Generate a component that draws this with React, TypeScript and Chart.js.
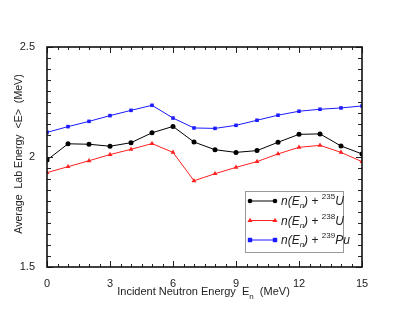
import React, { useEffect, useRef } from "react";
import { Chart, registerables } from "chart.js";

Chart.register(...registerables);

const energies = [0, 1, 2, 3, 4, 5, 6, 7, 8, 9, 10, 11, 12, 13, 14, 15];
const u235 = [1.986, 2.06, 2.058, 2.049, 2.065, 2.11, 2.139, 2.068, 2.033, 2.021, 2.029, 2.067, 2.103, 2.105, 2.05, 2.014];
const u238 = [1.929, 1.956, 1.983, 2.011, 2.035, 2.061, 2.021, 1.892, 1.924, 1.953, 1.979, 2.014, 2.044, 2.053, 2.021, 1.979];
const pu239 = [2.112, 2.138, 2.162, 2.188, 2.212, 2.235, 2.177, 2.132, 2.13, 2.144, 2.167, 2.19, 2.208, 2.217, 2.223, 2.232];
const massNumbers = ["235", "238", "239"];
const elements = ["U", "U", "Pu"];
const xTickLabels = ["0", "3", "6", "9", "12", "15"];
const yTickLabels = ["1.5", "2", "2.5"];
const xTitle = ["Incident Neutron Energy  E", "n", "  (MeV)"];
const yTitle = "Average  Lab Energy  <E>  (MeV)";

const FONT = "'Liberation Sans', Arial, sans-serif";

const framePlugin = {
  id: "frameTicks",
  afterDatasetsDraw(chart: any) {
    const { ctx, chartArea: a, scales } = chart;
    const xs = scales.x, ys = scales.y;
    ctx.save();
    ctx.strokeStyle = "#222";
    ctx.lineWidth = 1;
    for (let v = 0; v <= 15.001; v += 0.5) {
      const px = Math.round(xs.getPixelForValue(v)) + 0.5;
      const len = Math.abs(v % 3) < 1e-6 ? 6 : 3;
      ctx.beginPath();
      ctx.moveTo(px, a.bottom); ctx.lineTo(px, a.bottom - len);
      ctx.moveTo(px, a.top); ctx.lineTo(px, a.top + len);
      ctx.stroke();
    }
    for (let i = 0; i <= 20; i++) {
      const v = 1.5 + i * 0.05;
      const py = Math.round(ys.getPixelForValue(v)) + 0.5;
      const len = i % 10 === 0 ? 6 : 4;
      ctx.beginPath();
      ctx.moveTo(a.left, py); ctx.lineTo(a.left + len, py);
      ctx.moveTo(a.right, py); ctx.lineTo(a.right - len, py);
      ctx.stroke();
    }
    ctx.lineWidth = 1.6;
    ctx.strokeStyle = "#111";
    ctx.strokeRect(a.left, a.top, a.right - a.left, a.bottom - a.top);

    ctx.fillStyle = "#222";
    ctx.textBaseline = "alphabetic";
    const f1 = `11px ${FONT}`, f2 = `8px ${FONT}`;
    ctx.font = f1;
    const w0 = ctx.measureText(xTitle[0]).width;
    const w2 = ctx.measureText(xTitle[2]).width;
    ctx.font = f2;
    const w1 = ctx.measureText(xTitle[1]).width;
    const total = w0 + w1 + w2;
    let x = (a.left + a.right) / 2 - total / 2 - 1;
    const by = 295;
    ctx.font = f1; ctx.textAlign = "left";
    ctx.fillText(xTitle[0], x, by); x += w0;
    ctx.font = f2; ctx.fillText(xTitle[1], x, by + 4); x += w1;
    ctx.font = f1; ctx.fillText(xTitle[2], x, by);

    ctx.save();
    ctx.translate(22, 154);
    ctx.rotate(-Math.PI / 2);
    ctx.textAlign = "center";
    ctx.font = `10.6px ${FONT}`;
    ctx.fillText(yTitle, 0, 0);
    ctx.restore();

    const lx = 245, ly = 191, lw = 98, lh = 61;
    ctx.fillStyle = "#fff";
    ctx.fillRect(lx, ly, lw, lh);
    ctx.lineWidth = 1;
    ctx.strokeStyle = "#999";
    ctx.strokeRect(lx + 0.5, ly + 0.5, lw, lh);
    chart.data.datasets.forEach((ds: any, i: number) => {
      const y = 201 + i * 19.5;
      ctx.strokeStyle = ds.borderColor;
      ctx.lineWidth = 1;
      ctx.beginPath(); ctx.moveTo(250, y); ctx.lineTo(275, y); ctx.stroke();
      ctx.fillStyle = ds.pointBackgroundColor;
      [250, 275].forEach((mx) => {
        if (ds.pointStyle === "circle") {
          ctx.beginPath(); ctx.arc(mx, y, 2.3, 0, Math.PI * 2); ctx.fill();
        } else if (ds.pointStyle === "triangle") {
          ctx.beginPath(); ctx.moveTo(mx, y - 2.8); ctx.lineTo(mx + 2.6, y + 1.6); ctx.lineTo(mx - 2.6, y + 1.6); ctx.closePath(); ctx.fill();
        } else {
          ctx.fillRect(mx - 2.2, y - 2.2, 4.4, 4.4);
        }
      });
      ctx.fillStyle = "#222";
      ctx.textAlign = "left";
      let tx = 281;
      const by2 = y + 4;
      const big = `italic 12px ${FONT}`, small = `italic 8px ${FONT}`, norm = `12px ${FONT}`, smallN = `8px ${FONT}`;
      ctx.font = big; ctx.fillText("n(E", tx, by2); tx += ctx.measureText("n(E").width;
      ctx.font = small; ctx.fillText("n", tx, by2 + 3); tx += ctx.measureText("n").width;
      ctx.font = big; ctx.fillText(")", tx, by2); tx += ctx.measureText(")").width;
      ctx.font = norm; ctx.fillText(" + ", tx, by2); tx += ctx.measureText(" + ").width;
      ctx.font = smallN; ctx.fillText(massNumbers[i], tx, by2 - 6); tx += ctx.measureText(massNumbers[i]).width;
      ctx.font = big; ctx.fillText(elements[i], tx, by2);
    });
    ctx.restore();
  },
};

export default function App() {
  const ref = useRef<HTMLCanvasElement>(null);
  useEffect(() => {
    const mk = (data: number[], color: string, style: string, r: number) => ({
      data: energies.map((e, i) => ({ x: e, y: data[i] })),
      borderColor: color,
      backgroundColor: color,
      pointBackgroundColor: color,
      pointBorderColor: color,
      pointStyle: style,
      pointRadius: r,
      borderWidth: 1,
      pointBorderWidth: 0,
    });
    const chart = new Chart(ref.current!, {
      type: "line",
      data: {
        datasets: [
          mk(u235, "#000000", "circle", 2.5),
          mk(u238, "#ff2020", "triangle", 2.8),
          mk(pu239, "#1a1aff", "rect", 2.5),
        ],
      },
      options: {
        animation: false,
        responsive: false,
        events: [],
        layout: { padding: { left: 0, right: 45, top: 47, bottom: 0 } },
        plugins: { legend: { display: false }, tooltip: { enabled: false } },
        scales: {
          x: {
            type: "linear",
            min: 0,
            max: 15,
            grid: { display: false },
            border: { display: false },
            afterBuildTicks: (s: any) => {
              s.ticks = xTickLabels.map((t) => ({ value: Number(t) }));
            },
            ticks: {
              padding: 2,
              color: "#222",
              font: { family: FONT, size: 11 },
              maxRotation: 0,
              callback: (v: any) => String(v),
            },
            afterFit: (s: any) => { s.height = 47; },
          },
          y: {
            min: 1.5,
            max: 2.5,
            grid: { display: false },
            border: { display: false },
            afterBuildTicks: (s: any) => {
              s.ticks = yTickLabels.map((t) => ({ value: Number(t) }));
            },
            ticks: {
              padding: 4,
              color: "#222",
              font: { family: FONT, size: 11 },
              callback: (v: any) => String(v),
            },
            afterFit: (s: any) => { s.width = 47; },
          },
        },
      },
      plugins: [framePlugin],
    } as any);
    return () => chart.destroy();
  }, []);
  return (
    <div style={{ position: "fixed", left: 0, top: 0, width: 407, height: 314, background: "#fff" }}>
      <canvas ref={ref} width={407} height={314} style={{ width: 407, height: 314 }} />
    </div>
  );
}
